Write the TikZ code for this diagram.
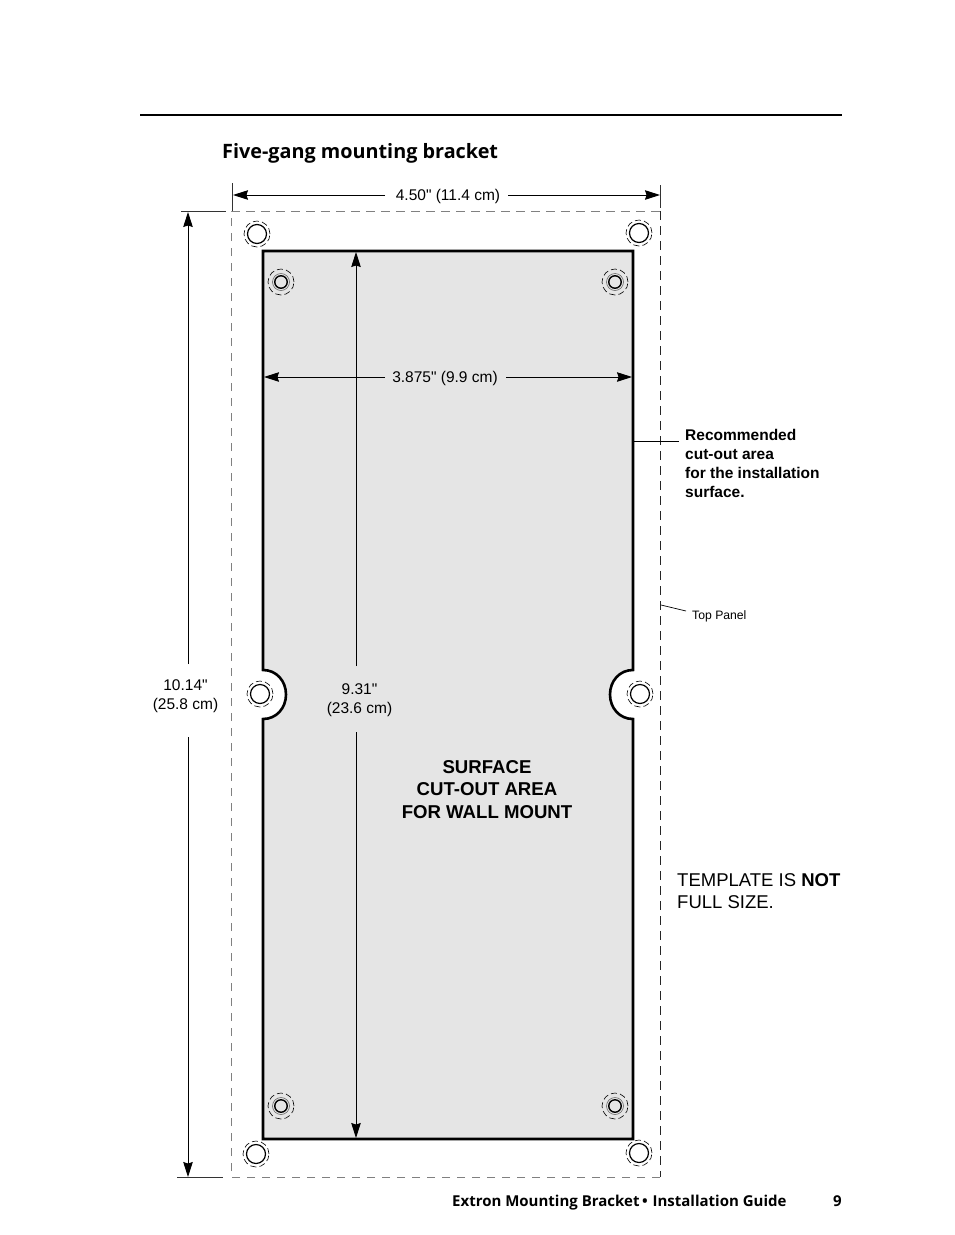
\documentclass[tikz,border=0pt]{standalone}
\usepackage{fontspec}
\setmainfont{Liberation Sans}[Ligatures=TeXOff]
\newfontfamily\headfont{Open Sans}
\usetikzlibrary{arrows.meta}
\tikzset{
	dimend/.style={-{Stealth[length=15pt,width=9.5pt,inset=1.5pt]}, black, line width=0.9pt},
	tick/.style={line width=0.9pt, black!80},
	label/.style={inner sep=0pt, align=center, font=\fontsize{15.5}{19}\selectfont},
	boldlabel/.style={inner sep=0pt, align=center, font=\fontsize{18.6}{22.5}\selectfont\bfseries},
	hole/.style={circle, draw, inner sep=0pt, minimum size=19pt, line width=1.2pt},
	smallhole/.style={circle, draw, inner sep=0pt, minimum size=12.5pt, line width=1.4pt},
	ring/.style={draw, dash pattern=on 6pt off 3.2pt, line width=0.6pt},
}
\begin{document}
\begin{tikzpicture}[x=1pt, y=-1pt]
	\useasboundingbox (0, 0) rectangle (954, 1235);
	\fill[white] (0, 0) rectangle (954, 1235);

	\draw[line width=2pt] (140, 115) -- (842, 115);
	\node[anchor=base west, inner sep=0pt, font=\fontsize{19.8}{22}\selectfont\headfont\bfseries] (title) at (222, 158) {Five-gang mounting bracket};

	% template outline
	\draw[black!50, line width=1pt, dash pattern=on 8.5pt off 6.5pt] (660, 1177) -- (231, 1177) -- (231, 211) -- (660, 211);
	\draw[black!85, line width=0.9pt, dash pattern=on 9pt off 6pt] (660, 211) -- (660, 1177);

	% cut-out area
	\draw[fill=black!10, line width=2.6pt, line join=miter] (263, 251) -- (633, 251) -- (633, 670)
		.. controls (619.5, 670) and (610, 681) .. (610, 694.5)
		.. controls (610, 708) and (619.5, 719) .. (633, 719)
		-- (633, 1139) -- (263, 1139) -- (263, 719)
		.. controls (276.5, 719) and (286, 708) .. (286, 694.5)
		.. controls (286, 681) and (276.5, 670) .. (263, 670)
		-- cycle;

	% holes
	\foreach \name/\px/\py in {ha/257/234, hb/639/233, hc/260/694, hd/640/694, he/256/1154, hf/639/1153} {
		\node[hole] (\name) at (\px, \py) {};
		\draw[ring] (\px, \py) circle[radius=13pt];
	}
	\foreach \name/\px/\py in {sa/281/282, sb/615/282, sc/281/1106, sd/615/1106} {
		\node[smallhole] (\name) at (\px, \py) {};
		\draw[black!60, line width=0.6pt] (\px, \py) circle[radius=8.5pt];
		\draw[ring] (\px, \py) circle[radius=13pt];
	}

	% dimensions
	\coordinate (wl) at (233, 195);
	\coordinate (wr) at (660, 195);
	\node[label] (wlabel) at (448, 196) {4.50" (11.4 cm)};
	\draw[tick] (232, 183) -- (232, 211);
	\draw[tick] (660, 185) -- (660, 208);
	\draw[dimend] (385, 195) -- (wl);
	\draw[dimend] (508, 195) -- (wr);

	\coordinate (cl) at (264, 377);
	\coordinate (cr) at (632, 377);
	\node[label] (clabel) at (445, 378) {3.875" (9.9 cm)};
	\draw[dimend] (385, 377) -- (cl);
	\draw[dimend] (506, 377) -- (cr);

	\coordinate (ht) at (188, 212);
	\coordinate (hb) at (188, 1177);
	\node[label] (hlabel) at (185.5, 696.5) {10.14"\\(25.8 cm)};
	\draw[tick] (181, 211) -- (226, 211);
	\draw[tick] (177, 1177) -- (223, 1177);
	\draw[dimend] (188, 664) -- (ht);
	\draw[dimend] (188, 737) -- (hb);

	\coordinate (it) at (356, 252);
	\coordinate (ib) at (356, 1138);
	\node[label] (ilabel) at (359.5, 700.5) {9.31"\\(23.6 cm)};
	\draw[dimend] (356, 666) -- (it);
	\draw[dimend] (356, 732) -- (ib);

	% texts
	\node[boldlabel] (surface) at (487, 789.5) {SURFACE\\CUT-OUT AREA\\FOR WALL MOUNT};
	\node[inner sep=0pt, anchor=north west, align=left, font=\fontsize{15.5}{18.7}\selectfont\bfseries] (rec) at (685, 429.5) {Recommended\\cut-out area\\for the installation\\surface.};
	\node[anchor=base west, inner sep=0pt, font=\fontsize{12.2}{15}\selectfont] (top) at (692, 619) {Top Panel};
	\node[inner sep=0pt, anchor=north west, align=left, font=\fontsize{18.5}{22.5}\selectfont] (tmpl) at (677, 873) {TEMPLATE IS \textbf{NOT}\\FULL SIZE.};

	% leaders
	\coordinate (recend) at (633, 441);
	\coordinate (topend) at (661, 605);
	\draw[line width=1pt] (recend) -- (679, 441);
	\draw[line width=0.7pt] (topend) -- (686, 611);

	% footer
	\node[anchor=base west, inner sep=0pt, font=\fontsize{15}{18}\selectfont\headfont\bfseries] (foot) at (452, 1206) {Extron Mounting Bracket\,•\,\,Installation Guide};
	\node[anchor=base east, inner sep=0pt, font=\fontsize{15}{18}\selectfont\headfont\bfseries] (page) at (842, 1206) {9};
\end{tikzpicture}
\end{document}
